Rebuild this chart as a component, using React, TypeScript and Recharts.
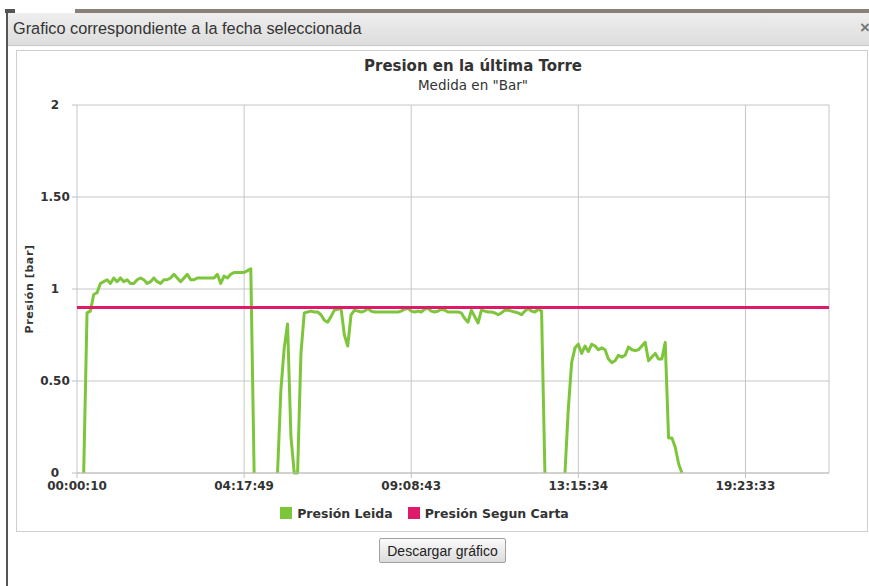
import { LineChart, Line, XAxis, YAxis, CartesianGrid, Legend } from "recharts";

// Etiquetas del eje X (categorías cada 50 muestras)
const horas = ["00:00:10", "04:17:49", "09:08:43", "13:15:34", "19:23:33"];
const posicionesHora = [0, 50, 100, 150, 200];
const totalMuestras = 225;

// Eje Y
const ticksY = [0, 0.5, 1, 1.5, 2];
const etiquetasY = ["0", "0.50", "1", "1.50", "2"];

// Presión leída por muestra (null = sin lectura)
const presionLeida: (number | null)[] = [
  null, null, 0, 0.87, 0.88, 0.97, 0.98, 1.03, 1.04, 1.05,
  1.03, 1.06, 1.04, 1.06, 1.04, 1.05, 1.03, 1.03, 1.05, 1.06,
  1.05, 1.03, 1.04, 1.06, 1.04, 1.03, 1.05, 1.05, 1.06, 1.08,
  1.06, 1.04, 1.06, 1.08, 1.05, 1.05, 1.06, 1.06, 1.06, 1.06,
  1.06, 1.06, 1.08, 1.03, 1.07, 1.06, 1.08, 1.09, 1.09, 1.09,
  1.09, 1.1, 1.11, 0, null, null, null, null, null, null,
  0, 0.45, 0.68, 0.81, 0.2, 0, 0, 0.65, 0.87, 0.875,
  0.88, 0.875, 0.875, 0.86, 0.83, 0.82, 0.85, 0.885, 0.89, 0.895,
  0.75, 0.69, 0.86, 0.885, 0.88, 0.875, 0.88, 0.895, 0.88, 0.875,
  0.875, 0.875, 0.875, 0.875, 0.875, 0.875, 0.875, 0.88, 0.89, 0.895,
  0.88, 0.875, 0.88, 0.875, 0.89, 0.895, 0.88, 0.875, 0.88, 0.89,
  0.885, 0.875, 0.875, 0.875, 0.875, 0.87, 0.84, 0.82, 0.885, 0.85,
  0.815, 0.885, 0.88, 0.875, 0.875, 0.87, 0.86, 0.87, 0.885, 0.885,
  0.88, 0.875, 0.87, 0.86, 0.88, 0.895, 0.88, 0.875, 0.89, 0.88,
  0, null, null, null, null, null, 0, 0.35, 0.6, 0.68,
  0.7, 0.65, 0.69, 0.66, 0.7, 0.69, 0.67, 0.68, 0.67, 0.62,
  0.6, 0.61, 0.64, 0.63, 0.64, 0.685, 0.67, 0.665, 0.67, 0.69,
  0.71, 0.61, 0.63, 0.65, 0.62, 0.62, 0.71, 0.19, 0.19, 0.14,
  0.05, 0,
];

// Presión según carta (constante en todo el día)
const presionCarta = 0.9;
const limitesCarta = [0, totalMuestras];

const series = [
  { nombre: "Presión Leida", color: "#7DC63C" },
  { nombre: "Presión Segun Carta", color: "#DF1A6B" },
];

const datosLeida = presionLeida.map((v, i) => ({ i, leida: v }));
const datosCarta = limitesCarta.map((i) => ({ i, carta: presionCarta }));

const FUENTE = "'DejaVu Sans', Verdana, sans-serif";

function TickY(props: any) {
  const { x, y, payload } = props;
  const idx = ticksY.indexOf(payload.value);
  return (
    <text
      x={x - 15}
      y={y}
      dy={4}
      textAnchor="middle"
      fill="#333"
      fontSize={12}
      fontWeight="bold"
      fontFamily={FUENTE}
    >
      {etiquetasY[idx]}
    </text>
  );
}

function TituloY(props: any) {
  const vb = props.viewBox || { x: 17, y: 15, width: 60, height: 368 };
  const cx = vb.x + 12;
  const cy = vb.y + vb.height / 2;
  return (
    <text
      transform={`translate(${cx}, ${cy}) rotate(-90)`}
      textAnchor="middle"
      dy={4}
      fill="#333"
      fontSize={11}
      fontWeight="bold"
      fontFamily={FUENTE}
      letterSpacing={0.6}
    >
      Presión [bar]
    </text>
  );
}

function Leyenda() {
  return (
    <div
      style={{
        display: "flex",
        justifyContent: "center",
        alignItems: "center",
        height: 20,
        fontFamily: FUENTE,
        fontSize: 12.5,
        fontWeight: "bold",
        color: "#333",
      }}
    >
      {series.map((s, k) => (
        <div
          key={s.nombre}
          style={{ display: "flex", alignItems: "center", marginRight: k === 0 ? 15 : 0 }}
        >
          <span style={{ width: 12, height: 12, background: s.color, marginRight: 5, display: "inline-block" }} />
          <span>{s.nombre}</span>
        </div>
      ))}
    </div>
  );
}

export default function App() {
  return (
    <div
      style={{
        position: "fixed",
        left: 0,
        top: 0,
        width: 869,
        height: 586,
        background: "#fff",
        overflow: "hidden",
        fontFamily: "'Liberation Sans', Arial, sans-serif",
      }}
    >
      {/* fondo de la página detrás del diálogo */}
      <div style={{ position: "absolute", left: 75, top: 9, width: 794, height: 4, background: "#8b8078" }} />
      <div style={{ position: "absolute", left: 5, top: 9, width: 10, height: 4, background: "#555" }} />
      <div style={{ position: "absolute", left: 6, top: 13, width: 2, height: 573, background: "#555" }} />

      {/* barra de título del diálogo */}
      <div
        style={{
          position: "absolute",
          left: 8,
          top: 13,
          width: 861,
          height: 32,
          background: "linear-gradient(#eeeeee, #dddddd)",
          borderBottom: "1px solid #c6c6c6",
        }}
      >
        <div style={{ position: "absolute", left: 5, top: 6, fontSize: 16.3, color: "#333" }}>
          Grafico correspondiente a la fecha seleccionada
        </div>
        <div style={{ position: "absolute", left: 852, top: 5, fontSize: 17, color: "#777", fontWeight: "bold" }}>
          ×
        </div>
      </div>

      {/* contenedor del gráfico */}
      <div
        style={{
          position: "absolute",
          left: 16,
          top: 50,
          width: 850,
          height: 480,
          border: "1px solid #cfcfcf",
          background: "#fff",
        }}
      />

      <div
        style={{
          position: "absolute",
          left: 0,
          top: 57,
          width: 946,
          textAlign: "center",
          fontFamily: FUENTE,
          color: "#333",
        }}
      >
        <div style={{ fontSize: 15, fontWeight: "bold", lineHeight: "18px" }}>Presion en la última Torre</div>
        <div style={{ fontSize: 13.5, lineHeight: "16px", marginTop: 2 }}>Medida en "Bar"</div>
      </div>

      <div style={{ position: "absolute", left: 0, top: 90 }}>
        <LineChart width={869} height={440} margin={{ top: 15, right: 40, bottom: 7, left: 17 }}>
          <CartesianGrid stroke="#c6c6c6" strokeWidth={1} />
          <XAxis
            type="number"
            dataKey="i"
            domain={[0, totalMuestras]}
            ticks={posicionesHora}
            tickFormatter={(v: number) => horas[posicionesHora.indexOf(v)]}
            interval={0}
            height={30}
            tickSize={5}
            tickMargin={3}
            axisLine={{ stroke: "#c0c0c0" }}
            tickLine={{ stroke: "#c0c0c0" }}
            tick={{ fill: "#333", fontSize: 12, fontWeight: "bold", fontFamily: FUENTE }}
          />
          <YAxis
            type="number"
            domain={[0, 2]}
            ticks={ticksY}
            width={60}
            tickSize={5}
            tickMargin={2}
            axisLine={false}
            tickLine={{ stroke: "#c0c0c0" }}
            tick={<TickY />}
            label={{ content: (p: any) => <TituloY {...p} /> }}
          />
          <Legend
            verticalAlign="bottom"
            wrapperStyle={{ left: 0, width: 849 }}
            content={() => <Leyenda />}
          />
          <Line
            data={datosLeida}
            dataKey="leida"
            name={series[0].nombre}
            type="linear"
            stroke={series[0].color}
            strokeWidth={3}
            strokeLinejoin="round"
            dot={false}
            activeDot={false}
            connectNulls={false}
            isAnimationActive={false}
          />
          <Line
            data={datosCarta}
            dataKey="carta"
            name={series[1].nombre}
            type="linear"
            stroke={series[1].color}
            strokeWidth={3}
            dot={false}
            activeDot={false}
            isAnimationActive={false}
          />
        </LineChart>
      </div>

      {/* botón de descarga */}
      <button
        style={{
          position: "absolute",
          left: 379,
          top: 538,
          width: 127,
          height: 25,
          fontFamily: "'Liberation Sans', Arial, sans-serif",
          fontSize: 14,
          color: "#222",
          background: "linear-gradient(#fafafa, #dcdcdc)",
          border: "1px solid #a0a0a0",
          borderRadius: 2,
          padding: 0,
        }}
      >
        Descargar gráfico
      </button>
    </div>
  );
}
